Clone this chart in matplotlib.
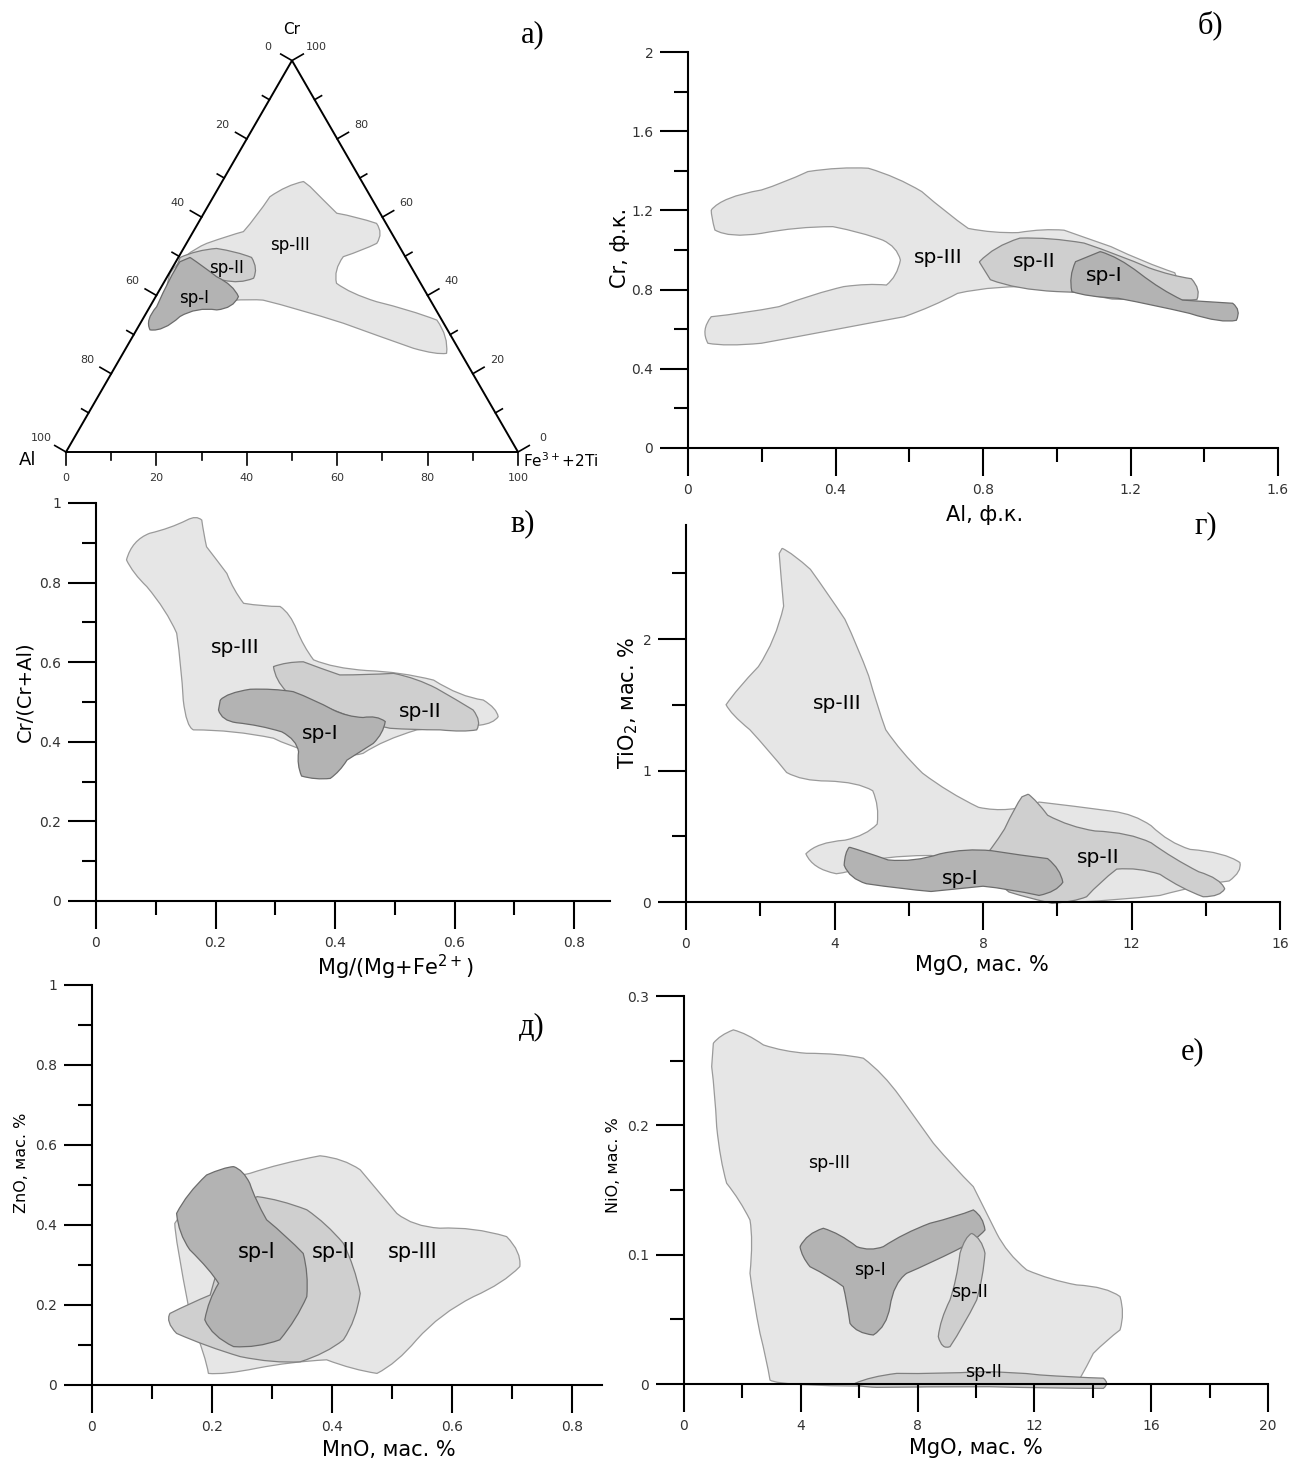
import numpy as np
import matplotlib
matplotlib.use('Agg')
import matplotlib.pyplot as plt
from matplotlib.path import Path
from matplotlib.patches import PathPatch

plt.rcParams['font.family'] = ['DejaVu Sans']
plt.rcParams['mathtext.default'] = 'regular'

W, H = 1296, 1459

# ---------------- а) ternary Cr - Al - (Fe3+ + 2Ti), outlines as (Cr %, Fe %) ----------------
a3_cr = [69.1, 68.2, 65.2, 60.1, 56.3, 55.4, 53.3, 50.8, 45.7, 38.0, 37.6, 39.3, 38.8, 36.7, 32.9,
         29.5, 26.5, 24.8, 25.2, 29.5, 33.7, 36.3, 38.4, 40.5, 43.1, 46.5, 49.9, 51.6, 53.3, 55.9,
         58.4, 60.1, 61.0, 64.4, 67.8]
a3_fe = [18.0, 14.7, 12.5, 12.1, 11.1, 8.6, 4.5, 0.6, 0.2, 1.8, 6.4, 18.9, 24.2, 32.7, 44.9,
         54.7, 63.6, 69.6, 71.6, 69.9, 65.2, 58.0, 49.5, 42.6, 38.3, 35.9, 36.4, 40.0, 42.1, 42.3,
         39.5, 34.3, 29.4, 24.7, 20.1]
a2_cr = [49.7, 51.6, 52.0, 51.2, 49.7, 46.9, 44.4, 42.9, 43.9, 41.4, 43.1]
a2_fe = [0.4, 3.1, 7.3, 12.2, 16.2, 19.1, 19.3, 17.0, 12.8, 8.2, 1.5]
a1_cr = [49.7, 47.4, 44.8, 42.7, 39.7, 36.7, 36.3, 37.1, 34.6, 30.7, 31.2, 33.7, 37.1, 44.8, 48.6]
a1_fe = [2.6, 6.7, 10.9, 15.7, 18.3, 18.7, 15.2, 10.3, 7.9, 6.2, 3.0, 0.6, 1.5, 0.6, 0.9]

# ---------------- б) Cr vs Al, ф.к. ----------------
b3_x = [0.063, 0.092, 0.199, 0.257, 0.325, 0.412, 0.489, 0.567, 0.634, 0.702, 0.760, 0.828, 0.896,
        0.964, 1.020, 1.070, 1.147, 1.240, 1.320, 1.340, 1.300, 1.250, 1.150, 1.070, 0.973, 0.828,
        0.731, 0.664, 0.586, 0.489, 0.393, 0.296, 0.199, 0.102, 0.054, 0.034, 0.063, 0.151, 0.247,
        0.344, 0.422, 0.489, 0.538, 0.567, 0.576, 0.567, 0.528, 0.470, 0.393, 0.296, 0.199, 0.112,
        0.073, 0.063]
b3_y = [1.202, 1.269, 1.303, 1.337, 1.396, 1.421, 1.413, 1.370, 1.295, 1.185, 1.109, 1.084, 1.088,
        1.109, 1.100, 1.067, 1.017, 0.935, 0.885, 0.800, 0.765, 0.745, 0.752, 0.780, 0.815, 0.823,
        0.781, 0.714, 0.663, 0.630, 0.596, 0.562, 0.529, 0.512, 0.529, 0.596, 0.663, 0.680, 0.714,
        0.781, 0.815, 0.832, 0.823, 0.865, 0.949, 1.017, 1.050, 1.090, 1.118, 1.118, 1.084, 1.059,
        1.101, 1.168]
b2_x = [0.790, 0.830, 0.900, 0.980, 1.074, 1.170, 1.250, 1.310, 1.365, 1.392, 1.380, 1.320, 1.220,
        1.100, 1.000, 0.890, 0.820]
b2_y = [0.940, 1.020, 1.060, 1.065, 1.035, 0.975, 0.910, 0.870, 0.855, 0.800, 0.750, 0.740, 0.760,
        0.785, 0.790, 0.800, 0.850]
b1_x = [1.118, 1.167, 1.225, 1.283, 1.341, 1.408, 1.477, 1.501, 1.487, 1.447, 1.360, 1.264, 1.167,
        1.080, 1.041, 1.032, 1.051]
b1_y = [0.992, 0.966, 0.882, 0.798, 0.747, 0.739, 0.731, 0.697, 0.645, 0.628, 0.680, 0.722, 0.756,
        0.764, 0.790, 0.866, 0.941]

# ---------------- в) Cr/(Cr+Al) vs Mg/(Mg+Fe2+) ----------------
v3_x = [0.051, 0.060, 0.090, 0.124, 0.152, 0.168, 0.177, 0.180, 0.185, 0.202, 0.219, 0.230, 0.247,
        0.280, 0.308, 0.325, 0.336, 0.347, 0.364, 0.397, 0.453, 0.509, 0.565, 0.609, 0.648, 0.671,
        0.673, 0.665, 0.643, 0.592, 0.537, 0.481, 0.447, 0.420, 0.364, 0.319, 0.297, 0.230, 0.163,
        0.151, 0.146, 0.143, 0.135, 0.118, 0.085, 0.062]
v3_y = [0.857, 0.907, 0.924, 0.936, 0.957, 0.970, 0.957, 0.924, 0.890, 0.857, 0.823, 0.781, 0.748,
        0.740, 0.740, 0.723, 0.681, 0.640, 0.606, 0.585, 0.579, 0.576, 0.555, 0.513, 0.505, 0.484,
        0.463, 0.446, 0.442, 0.438, 0.430, 0.405, 0.371, 0.359, 0.371, 0.392, 0.409, 0.430, 0.430,
        0.438, 0.505, 0.589, 0.673, 0.731, 0.790, 0.823]
v2_x = [0.297, 0.319, 0.347, 0.375, 0.408, 0.453, 0.498, 0.537, 0.570, 0.604, 0.631, 0.646, 0.637,
        0.615, 0.576, 0.531, 0.492, 0.453, 0.397, 0.353, 0.319, 0.300]
v2_y = [0.589, 0.601, 0.601, 0.585, 0.568, 0.568, 0.572, 0.560, 0.534, 0.505, 0.480, 0.451, 0.430,
        0.424, 0.430, 0.430, 0.434, 0.446, 0.480, 0.505, 0.526, 0.555]
v1_x = [0.208, 0.219, 0.258, 0.297, 0.330, 0.364, 0.397, 0.420, 0.447, 0.470, 0.484, 0.481, 0.464,
        0.442, 0.420, 0.408, 0.392, 0.367, 0.344, 0.336, 0.339, 0.336, 0.311, 0.274, 0.235, 0.210,
        0.205]
v1_y = [0.505, 0.523, 0.532, 0.534, 0.526, 0.507, 0.480, 0.463, 0.461, 0.467, 0.451, 0.421, 0.396,
        0.375, 0.354, 0.325, 0.308, 0.304, 0.314, 0.342, 0.375, 0.405, 0.425, 0.442, 0.448, 0.453,
        0.480]

# ---------------- г) TiO2 vs MgO ----------------
g3_x = [2.59, 2.88, 3.35, 3.81, 4.28, 4.63, 4.92, 5.15, 5.38, 5.79, 6.37, 7.07, 7.88, 8.70, 9.51,
        10.44, 11.49, 12.07, 12.53, 13.00, 13.58, 14.51, 14.92, 14.98, 14.63, 13.81, 12.77, 11.60,
        10.56, 9.86, 9.28, 7.53, 6.60, 5.79, 5.21, 4.74, 4.05, 3.41, 3.23, 3.52, 4.28, 4.86, 5.15,
        5.21, 5.03, 4.63, 3.81, 3.12, 2.71, 2.24, 1.72, 1.20, 1.08, 1.37, 1.95, 2.42, 2.63, 2.56,
        2.51]
g3_y = [2.69, 2.65, 2.53, 2.35, 2.15, 1.94, 1.72, 1.49, 1.31, 1.14, 0.98, 0.83, 0.72, 0.67, 0.76,
        0.73, 0.69, 0.67, 0.58, 0.45, 0.40, 0.38, 0.30, 0.23, 0.16, 0.13, 0.05, 0.013,
        0.0, 0.013, 0.10, 0.265, 0.354, 0.354, 0.328, 0.24, 0.215, 0.25, 0.366, 0.455, 0.47, 0.505,
        0.593, 0.73, 0.846, 0.914, 0.92, 0.92, 0.985, 1.15, 1.31, 1.43, 1.50, 1.62, 1.79, 1.99,
        2.25, 2.47, 2.65]
g2_x = [9.22, 9.45, 9.74, 10.33, 11.02, 11.95, 12.53, 13.12, 13.81, 14.40, 14.51, 14.40, 13.93,
        13.35, 12.77, 12.19, 11.60, 11.14, 10.79, 10.44, 9.86, 9.28, 8.70, 8.12, 8.06, 8.23, 8.58,
        8.87, 9.05]
g2_y = [0.82, 0.77, 0.66, 0.57, 0.54, 0.53, 0.45, 0.33, 0.23, 0.18, 0.10, 0.04, 0.04,
        0.10, 0.21, 0.265, 0.25, 0.15, 0.04, 0.0, -0.01, 0.025, 0.076, 0.20, 0.354, 0.40, 0.555,
        0.73, 0.80]
g1_x = [4.40, 4.74, 5.44, 6.14, 6.84, 7.53, 8.23, 9.05, 9.74, 10.09, 10.15, 9.98, 9.51, 8.70,
        8.00, 7.30, 6.60, 5.79, 4.86, 4.40, 4.26, 4.28]
g1_y = [0.417, 0.39, 0.32, 0.30, 0.366, 0.41, 0.39, 0.354, 0.33, 0.25, 0.15, 0.076, 0.05, 0.10,
        0.12, 0.10, 0.08, 0.10, 0.139, 0.177, 0.28, 0.38]

# ---------------- д) ZnO vs MnO ----------------
d3_x = [0.263, 0.313, 0.380, 0.419, 0.447, 0.480, 0.508, 0.535, 0.580, 0.636, 0.691, 0.716, 0.713,
        0.686, 0.636, 0.580, 0.541, 0.508, 0.475, 0.435, 0.391, 0.330, 0.275, 0.219, 0.194, 0.191,
        0.163, 0.138, 0.138, 0.152, 0.191, 0.220]
d3_y = [0.529, 0.554, 0.573, 0.567, 0.538, 0.479, 0.429, 0.396, 0.392, 0.396, 0.371, 0.333, 0.296,
        0.254, 0.221, 0.179, 0.113, 0.054, 0.029, 0.038, 0.063, 0.058, 0.042, 0.025, 0.029, 0.063,
        0.179, 0.371, 0.404, 0.438, 0.488, 0.517]
d2_x = [0.275, 0.313, 0.358, 0.391, 0.419, 0.438, 0.447, 0.441, 0.419, 0.391, 0.347, 0.302, 0.247,
        0.191, 0.141, 0.122, 0.130, 0.163, 0.197, 0.219, 0.247]
d2_y = [0.471, 0.464, 0.438, 0.404, 0.354, 0.296, 0.229, 0.163, 0.113, 0.079, 0.058, 0.054, 0.071,
        0.096, 0.129, 0.158, 0.179, 0.204, 0.225, 0.346, 0.446]
d1_x = [0.236, 0.252, 0.263, 0.272, 0.291, 0.325, 0.352, 0.361, 0.358, 0.341, 0.313, 0.275, 0.236,
        0.200, 0.188, 0.194, 0.211, 0.197, 0.163, 0.144, 0.141, 0.158, 0.191, 0.219]
d1_y = [0.546, 0.538, 0.504, 0.463, 0.413, 0.371, 0.329, 0.279, 0.221, 0.163, 0.113, 0.092, 0.096,
        0.121, 0.163, 0.213, 0.254, 0.288, 0.338, 0.379, 0.429, 0.479, 0.525, 0.544]

# ---------------- е) NiO vs MgO ----------------
e3_x = [1.005, 1.233, 1.689, 2.146, 2.716, 3.402, 4.20, 5.342, 6.142, 6.826, 7.397, 7.968, 8.539,
        9.224, 9.908, 10.365, 10.708, 11.05, 11.736, 12.534, 13.448, 14.475, 14.932, 15.103, 14.932,
        14.475, 14.018, 13.79, 13.562, 12.763, 8.0, 3.174, 2.945, 2.831, 2.603, 2.374, 2.26, 2.374,
        2.26, 1.918, 1.461, 1.233, 1.119, 1.062, 0.948]
e3_y = [0.2635, 0.2699, 0.2738, 0.2712, 0.2622, 0.257, 0.2557, 0.2557, 0.2519, 0.2403, 0.2222,
        0.2042, 0.1862, 0.168, 0.1526, 0.132, 0.1165, 0.1011, 0.0882, 0.0804, 0.0766, 0.0753, 0.0676,
        0.0547, 0.0418, 0.034, 0.0237, 0.0134, 0.0044, 0.0005, -0.002, -0.0021, 0.0031, 0.0186,
        0.0392, 0.065, 0.0856, 0.1114, 0.1268, 0.1423, 0.1552, 0.1732, 0.199, 0.2248, 0.2454]
e1_x = [3.973, 4.20, 4.771, 5.342, 5.913, 6.370, 6.826, 7.511, 8.425, 9.338, 9.908, 10.25, 10.308,
        10.024, 9.338, 8.425, 7.626, 7.168, 7.055, 6.942, 6.483, 5.913, 5.685, 5.572, 5.456, 5.0,
        4.315, 4.03]
e1_y = [0.1062, 0.1165, 0.1204, 0.1165, 0.1062, 0.1024, 0.1062, 0.1165, 0.1243, 0.1294, 0.1346,
        0.1294, 0.1191, 0.1114, 0.1036, 0.0933, 0.0856, 0.0779, 0.0598, 0.0443, 0.0379, 0.0392,
        0.0469, 0.065, 0.0753, 0.083, 0.0907, 0.0985]
e2a_x = [9.852, 10.195, 10.308, 10.25, 10.024, 9.566, 9.11, 8.825, 8.709, 8.767, 9.11, 9.338,
         9.452, 9.623]
e2a_y = [0.1165, 0.1127, 0.1011, 0.083, 0.065, 0.0443, 0.0289, 0.0263, 0.0366, 0.0495, 0.065,
         0.0804, 0.1011, 0.1139]
e2b_x = [5.856, 6.37, 7.283, 8.767, 10.137, 11.278, 12.192, 13.333, 14.36, 14.589, 14.36, 12.763,
         10.479, 8.196, 6.599, 5.913]
e2b_y = [0.0005, 0.0057, 0.0082, 0.0077, 0.0095, 0.0095, 0.007, 0.0052, 0.0045, 0.0005, -0.0034,
         -0.0034, -0.0021, -0.0021, -0.0026, -0.0021]

SP3 = ('#e6e6e6', '#9a9a9a')
SP2 = ('#cfcfcf', '#7f7f7f')
SP1 = ('#b3b3b3', '#6c6c6c')

fig = plt.figure(figsize=(W / 100, H / 100), dpi=100)


def ftext(px, py, s, **kw):
    kw.setdefault('ha', 'center')
    kw.setdefault('va', 'center')
    fig.text(px / W, 1 - py / H, s, **kw)


def blob(ax, xs, ys, style, z):
    verts = list(zip(xs, ys))
    n = len(verts)
    verts.append(verts[0])
    codes = [Path.MOVETO] + [Path.CURVE3] * (n - n % 2)
    if n % 2:
        codes.append(Path.LINETO)
    ax.add_patch(PathPatch(Path(verts, codes), facecolor=style[0], edgecolor=style[1],
                           lw=0.9, zorder=z, clip_on=False))


def panel(x0, x1, ytop, ybot, xmax, ymax, xmaj, xmin, ymaj, ymin):
    ax = fig.add_axes([x0 / W, 1 - ybot / H, (x1 - x0) / W, (ybot - ytop) / H])
    ax.set_xlim(0, xmax)
    ax.set_ylim(0, ymax)
    ax.patch.set_alpha(0)
    for s in ['top', 'right']:
        ax.spines[s].set_visible(False)
    for s in ['left', 'bottom']:
        ax.spines[s].set_linewidth(1.5)
    ax.set_xticks(xmaj)
    ax.set_xticks(xmin, minor=True)
    ax.set_yticks(ymaj)
    ax.set_yticks(ymin, minor=True)
    ax.set_xticklabels([f'{v:g}' for v in xmaj])
    ax.set_yticklabels([f'{v:g}' for v in ymaj])
    ax.tick_params(which='major', length=20, width=1.5, labelsize=10, labelcolor='#333333')
    ax.tick_params(which='minor', length=10, width=1.5)
    ax.tick_params(axis='x', which='major', pad=5)
    ax.tick_params(axis='y', which='major', pad=5)
    return ax


# ---- а) ternary ----
s3 = np.sqrt(3) / 2


def tern(cr, fe):
    cr = np.asarray(cr, float)
    fe = np.asarray(fe, float)
    return fe + cr / 2, cr * s3


k = 4.52  # px per percent
axa = fig.add_axes([0, 1 - 490 / H, 600 / W, 490 / H])
axa.set_xlim(-66 / k, 534 / k)
axa.set_ylim(-38 / k, 452 / k)
axa.axis('off')

blob(axa, *tern(a3_cr, a3_fe), SP3, 1)
blob(axa, *tern(a2_cr, a2_fe), SP2, 2)
blob(axa, *tern(a1_cr, a1_fe), SP1, 3)

tx, ty = tern([0, 0, 100, 0], [0, 100, 0, 0])
axa.plot(tx, ty, color='k', lw=1.4, zorder=5, solid_joinstyle='miter')

for v in range(0, 101, 10):
    major = v % 20 == 0
    L = (13 if major else 8) / k
    sides = [(tern(100 - v, 0), (-s3, 0.5), 6.2),     # Al %
             (tern(v, 100 - v), (s3, 0.5), 6.2),      # Cr %
             (tern(0, v), (0, -1), 5.8)]              # Fe3+ + 2Ti %
    for (x, y), (nx, ny), d in sides:
        axa.plot([x, x + L * nx], [y, y + L * ny], color='k', lw=1.2, zorder=5)
        if major:
            axa.text(x + d * nx, y + d * ny, str(v), fontsize=8, color='#333333',
                     ha='center', va='center')

axa.text(50, 93.4, 'Cr', fontsize=11, ha='center', va='center')
axa.text(-8.6, -1.8, 'Al', fontsize=13, ha='center', va='center')
axa.text(101.0, -2.0, 'Fe$^{3+}$+2Ti', fontsize=11, ha='left', va='center')
axa.text(*tern(52.9, 23.1), 'sp-III', fontsize=12, ha='center', va='center', zorder=6)
axa.text(*tern(47.0, 12.1), 'sp-II', fontsize=12, ha='center', va='center', zorder=6)
axa.text(*tern(39.4, 8.7), 'sp-I', fontsize=12, ha='center', va='center', zorder=6)

# ---- б) ----
axb = panel(688, 1278, 52, 448, 1.6, 2.0,
            [0, 0.4, 0.8, 1.2, 1.6], [0.2, 0.6, 1.0, 1.4],
            [0, 0.4, 0.8, 1.2, 1.6, 2.0], [0.2, 0.6, 1.0, 1.4, 1.8])
blob(axb, b3_x, b3_y, SP3, 1)
blob(axb, b2_x, b2_y, SP2, 1.1)
blob(axb, b1_x, b1_y, SP1, 1.2)
axb.text(0.678, 0.96, 'sp-III', fontsize=14.5, ha='center', va='center')
axb.text(0.94, 0.94, 'sp-II', fontsize=14.5, ha='center', va='center')
axb.text(1.13, 0.87, 'sp-I', fontsize=14.5, ha='center', va='center')
ftext(985, 515, 'Al, ф.к.', fontsize=15)
ftext(620, 248, 'Cr, ф.к.', fontsize=15, rotation=90)

# ---- в) ----
axv = panel(96, 609.9, 503, 901, 0.86, 1.0,
            [0, 0.2, 0.4, 0.6, 0.8], [0.1, 0.3, 0.5, 0.7],
            [0, 0.2, 0.4, 0.6, 0.8, 1.0], [0.1, 0.3, 0.5, 0.7, 0.9])
blob(axv, v3_x, v3_y, SP3, 1)
blob(axv, v2_x, v2_y, SP2, 1.1)
blob(axv, v1_x, v1_y, SP1, 1.2)
axv.text(0.233, 0.638, 'sp-III', fontsize=14.5, ha='center', va='center')
axv.text(0.542, 0.475, 'sp-II', fontsize=14.5, ha='center', va='center')
axv.text(0.375, 0.422, 'sp-I', fontsize=14.5, ha='center', va='center')
ftext(395, 967, 'Mg/(Mg+Fe$^{2+}$)', fontsize=15)
ftext(25, 692, 'Cr/(Cr+Al)', fontsize=14, rotation=90)

# ---- г) ----
axg = panel(686, 1280, 524.6, 902, 16, 2.87,
            [0, 4, 8, 12, 16], [2, 6, 10, 14],
            [0, 1, 2], [0.5, 1.5, 2.5])
blob(axg, g3_x, g3_y, SP3, 1)
blob(axg, g2_x, g2_y, SP2, 1.1)
blob(axg, g1_x, g1_y, SP1, 1.2)
axg.text(4.07, 1.51, 'sp-III', fontsize=14.5, ha='center', va='center')
axg.text(11.1, 0.34, 'sp-II', fontsize=14.5, ha='center', va='center')
axg.text(7.38, 0.18, 'sp-I', fontsize=14.5, ha='center', va='center')
ftext(982, 965, 'MgO, мас. %', fontsize=15)
ftext(628, 703, 'TiO$_2$, мас. %', fontsize=15, rotation=90)

# ---- д) ----
axd = panel(92, 602, 985, 1385, 0.85, 1.0,
            [0, 0.2, 0.4, 0.6, 0.8], [0.1, 0.3, 0.5, 0.7],
            [0, 0.2, 0.4, 0.6, 0.8, 1.0], [0.1, 0.3, 0.5, 0.7, 0.9])
blob(axd, d3_x, d3_y, SP3, 1)
blob(axd, d2_x, d2_y, SP2, 1.1)
blob(axd, d1_x, d1_y, SP1, 1.2)
axd.text(0.275, 0.333, 'sp-I', fontsize=15, ha='center', va='center')
axd.text(0.402, 0.333, 'sp-II', fontsize=15, ha='center', va='center')
axd.text(0.535, 0.333, 'sp-III', fontsize=15, ha='center', va='center')
ftext(389, 1450, 'MnO, мас. %', fontsize=15)
ftext(22, 1163, 'ZnO, мас. %', fontsize=11.5, rotation=90)

# ---- е) ----
axe = panel(684, 1268, 996, 1384, 20, 0.3,
            [0, 4, 8, 12, 16, 20], [2, 6, 10, 14, 18],
            [0, 0.1, 0.2, 0.3], [0.05, 0.15, 0.25])
blob(axe, e3_x, e3_y, SP3, 1)
blob(axe, e1_x, e1_y, SP1, 1.1)
blob(axe, e2a_x, e2a_y, SP2, 1.2)
blob(axe, e2b_x, e2b_y, SP2, 1.2)
axe.text(4.97, 0.171, 'sp-III', fontsize=12.5, ha='center', va='center')
axe.text(6.37, 0.088, 'sp-I', fontsize=12.5, ha='center', va='center', zorder=3)
axe.text(9.79, 0.071, 'sp-II', fontsize=12.5, ha='center', va='center', zorder=3)
axe.text(10.24, 0.0093, 'sp-II', fontsize=12.5, ha='center', va='center', zorder=3)
ftext(976, 1448, 'MgO, мас. %', fontsize=15)
ftext(614, 1165, 'NiO, мас. %', fontsize=11.5, rotation=90)

# panel letters
for (px, py), s in zip([(533, 35), (1210, 25), (523, 524), (1206, 526), (532, 1027), (1193, 1052)],
                       ['а)', 'б)', 'в)', 'г)', 'д)', 'е)']):
    ftext(px, py, s, fontsize=22, family='Liberation Serif')

fig.savefig('out.png', dpi=100)
